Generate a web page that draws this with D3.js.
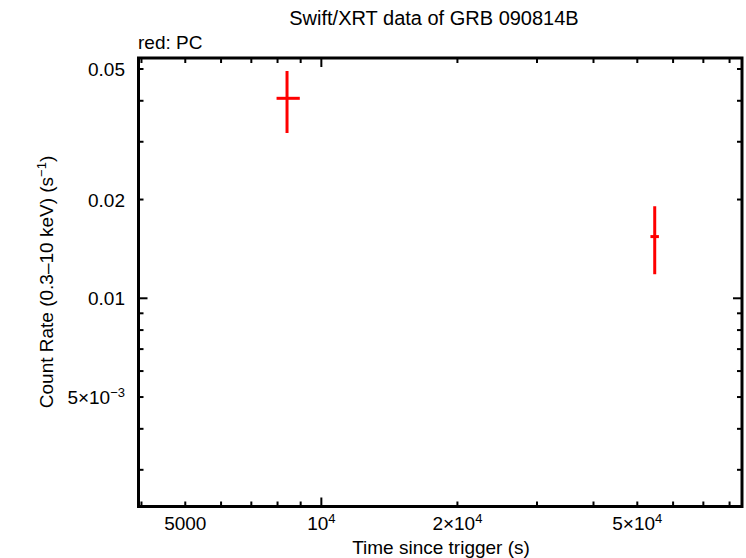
<!DOCTYPE html>
<html>
<head>
<meta charset="utf-8">
<script src="https://cdn.jsdelivr.net/npm/d3@7"></script>
<style>
  body { margin: 0; background: #fff; }
  text { font-family: "Liberation Sans", Arial, Helvetica, sans-serif; fill: #000; }
</style>
</head>
<body>
<div id="chart"></div>
<script>
// data (PC mode points)
var timeVals = [8396, 54640];
var timeLo = [7960, 53460];
var timeHi = [8960, 55820];
var rateVals = [0.0407, 0.01542];
var rateLo = [0.0319, 0.01184];
var rateHi = [0.0493, 0.01908];

// tick labels: value, base text, superscript
var xTickVals = [5000, 1e4, 2e4, 5e4];
var xTickBase = ["5000", "10", "2\u00d710", "5\u00d710"];
var xTickSup = ["", "4", "4", "4"];
var yTickVals = [0.05, 0.02, 0.01, 0.005];
var yTickBase = ["0.05", "0.02", "0.01", "5\u00d710"];
var yTickSup = ["", "", "", "\u22123"];

var width = 746, height = 558;
var plotL = 138.5, plotR = 742, plotT = 58, plotB = 506.5;
var red = "#ff0000";
var fs = "19px", fsSup = "13px";

var svg = d3.select("#chart").append("svg")
    .attr("width", width)
    .attr("height", height);

var x = d3.scaleLog().domain([3940, 85230]).range([plotL, plotR]);
var y = d3.scaleLog().domain([0.002319, 0.05401]).range([plotB, plotT]);

// ticks on all four sides
var xt = x.ticks();
var yt = y.ticks();
function isMajor(v) { return Math.abs(Math.log10(v) - Math.round(Math.log10(v))) < 1e-9; }

var ticks = svg.append("g").attr("stroke", "#000").attr("stroke-width", 2);
xt.forEach(function(v) {
    var len = isMajor(v) ? 9 : 5;
    ticks.append("line").attr("x1", x(v)).attr("x2", x(v)).attr("y1", plotB).attr("y2", plotB - len);
    ticks.append("line").attr("x1", x(v)).attr("x2", x(v)).attr("y1", plotT).attr("y2", plotT + len);
});
yt.forEach(function(v) {
    var len = isMajor(v) ? 9 : 5;
    ticks.append("line").attr("y1", y(v)).attr("y2", y(v)).attr("x1", plotL).attr("x2", plotL + len);
    ticks.append("line").attr("y1", y(v)).attr("y2", y(v)).attr("x1", plotR).attr("x2", plotR - len);
});

// frame
svg.append("rect")
    .attr("x", plotL).attr("y", plotT)
    .attr("width", plotR - plotL).attr("height", plotB - plotT)
    .attr("fill", "none")
    .attr("stroke", "#000")
    .attr("stroke-width", 3);

// x tick labels
xTickVals.forEach(function(v, i) {
    var t = svg.append("text")
        .attr("x", x(v)).attr("y", 530)
        .attr("text-anchor", "middle")
        .style("font-size", fs);
    t.append("tspan").text(xTickBase[i]);
    if (xTickSup[i]) t.append("tspan").attr("dy", -7).style("font-size", fsSup).text(xTickSup[i]);
});

// y tick labels
yTickVals.forEach(function(v, i) {
    var t = svg.append("text")
        .attr("x", 125).attr("y", y(v) + 7)
        .attr("text-anchor", "end")
        .style("font-size", fs);
    t.append("tspan").text(yTickBase[i]);
    if (yTickSup[i]) t.append("tspan").attr("dy", -7).style("font-size", fsSup).text(yTickSup[i]);
});

// titles
svg.append("text")
    .attr("x", 434).attr("y", 25)
    .attr("text-anchor", "middle")
    .style("font-size", "20px")
    .text("Swift/XRT data of GRB 090814B");

svg.append("text")
    .attr("x", 138).attr("y", 49)
    .style("font-size", fs)
    .text("red: PC");

svg.append("text")
    .attr("x", 441).attr("y", 554)
    .attr("text-anchor", "middle")
    .style("font-size", fs)
    .text("Time since trigger (s)");

var yl = svg.append("text")
    .attr("transform", "translate(53,282) rotate(-90)")
    .attr("text-anchor", "middle")
    .style("font-size", fs);
yl.append("tspan").text("Count Rate (0.3\u201310 keV) (s");
yl.append("tspan").attr("dy", -7).style("font-size", fsSup).text("\u22121");
yl.append("tspan").attr("dy", 7).text(")");

// error bars
var pts = d3.range(timeVals.length);
var g = svg.append("g").attr("stroke", red).attr("stroke-width", 3);
g.selectAll("line.xerr")
    .data(pts)
    .join("line")
    .attr("class", "xerr")
    .attr("x1", function(i) { return x(timeLo[i]); })
    .attr("x2", function(i) { return x(timeHi[i]); })
    .attr("y1", function(i) { return y(rateVals[i]); })
    .attr("y2", function(i) { return y(rateVals[i]); });
g.selectAll("line.yerr")
    .data(pts)
    .join("line")
    .attr("class", "yerr")
    .attr("x1", function(i) { return x(timeVals[i]); })
    .attr("x2", function(i) { return x(timeVals[i]); })
    .attr("y1", function(i) { return y(rateLo[i]); })
    .attr("y2", function(i) { return y(rateLo[i]) + (y(rateHi[i]) - y(rateLo[i])); });
</script>
</body>
</html>
